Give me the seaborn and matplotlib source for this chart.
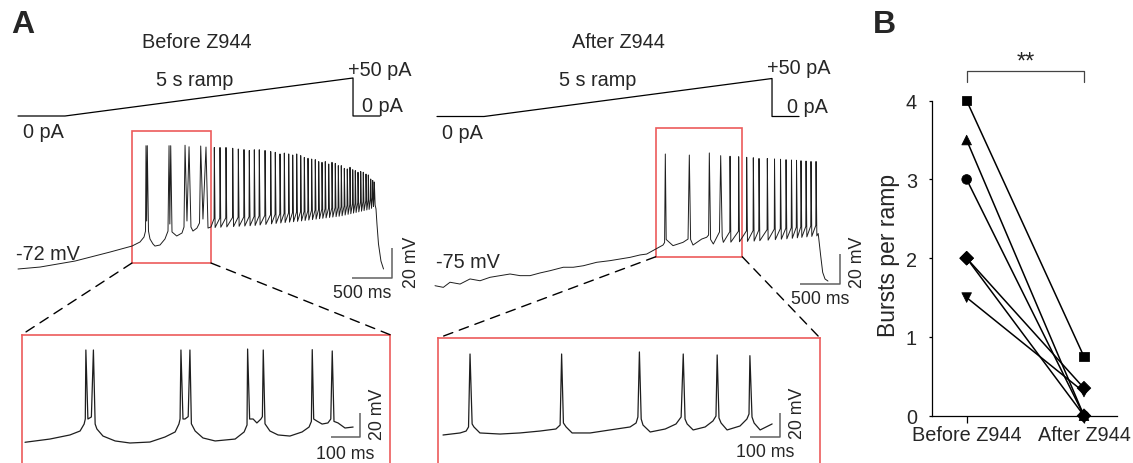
import numpy as np
import pandas as pd
import matplotlib
matplotlib.use("Agg")
import matplotlib.pyplot as plt
import seaborn as sns
from matplotlib.patches import Rectangle, ConnectionPatch

# ======================= DATA =======================
# ---- Panel B: bursts per ramp (paired) ----
subjects = ["S1", "S2", "S3", "S4", "S5", "S6"]
subject_markers = ["s", "^", "v", "D", "D", "o"]
bursts_before = [4.0, 3.5, 1.5, 2.0, 2.0, 3.0]
bursts_after = [0.75, 0.0, 0.30, 0.35, 0.0, 0.0]
conditions = ["Before Z944", "After Z944"]
b_yticks = [0, 1, 2, 3, 4]
signif_text = "**"

# ---- ramp command (ms, pA) ----
cmd_t = [-816, 0, 5000, 5000, 5469]
cmd_pA = [0, 0, 50, 0, 0]

# ---- Before Z944, full ramp trace (ms, mV) ----
pre_anchor_t = [0, 275, 712, 1150, 1425, 1525, 1575, 1594, 1608, 1631, 1650, 1687,
                1712, 1775, 1837, 1875, 1898, 1925, 1984, 2050, 2075, 2112, 2162,
                2187, 2237, 2269, 2312, 2375, 2412,
                4475, 4487, 4506, 4537, 4569]
pre_anchor_v = [-72, -70.7, -66.7, -60.7, -56.7, -54, -50.7, -46.7, -40, -46.7, -52, -55.3,
                -56.7, -56, -52, -46.7, -42, -47.3, -50, -48, -44, -40, -44,
                -46.7, -44.7, -41.3, -38.7, -44.7, -44,
                -32, -42, -55.3, -66.7, -72]
pre_burst_t = [1600, 1616, 1888, 1909, 2088, 2138, 2284, 2350]
pre_burst_v = [10.2, 10.2, 10.2, 10.2, 10.5, 9.5, 10.0, 9.3]
pre_single_t = [2454, 2525, 2600, 2684, 2754, 2825, 2891, 2954, 3016, 3088, 3159, 3216,
                3275, 3329, 3384, 3434, 3484, 3534, 3579, 3625, 3671, 3716, 3759, 3800,
                3841, 3884, 3925, 3966, 4004, 4041, 4079, 4116, 4150, 4184, 4216, 4250,
                4284, 4316, 4350, 4379, 4409, 4434, 4454]
pre_single_v = [9, 9, 9, 8.5, 8, 7.6, 7, 7.5, 7.5, 7, 6.3, 5.8,
                4.7, 5.3, 4.7, 4, 4.7, 3.6, 2.4, 1.8, 1.3, 0.9, -0.4, -0.9,
                -0.4, -2, -0.9, -1.6, -3.1, -3.1, -4.9, -5.3, -4.2, -5.8, -6.4, -7.5,
                -7, -7.5, -8.7, -9.3, -12, -13, -14]
pre_trough_t = [2400, 2950, 3525, 4025, 4400, 4460]
pre_trough_v = [-44.5, -43, -40, -36.7, -32, -29]

# ---- After Z944, full ramp trace (ms, mV) ----
post_anchor_t = [0, 104, 188, 313, 438, 563, 688, 813, 938, 1063, 1188, 1313, 1438,
                 1604, 1729, 1854, 2021, 2188, 2313, 2438, 2563, 2646, 2775, 2850,
                 2870, 2890, 2975, 3100, 3163, 3195, 3225, 3334, 3396, 3420, 3445,
                 3479, 3556, 3590, 3604,
                 4790, 4821, 4846, 4875, 4912]
post_anchor_v = [-74.8, -75.9, -72.5, -73.7, -70.3, -71.5, -69.2, -68.1, -67, -68.1, -68.1,
                 -66.3, -64.8, -62.5, -62.5, -61.5, -59.2, -58.1, -57, -55.9, -54.3,
                 -53.7, -49.9, -47.7, -46, -44, -48.1, -45.9, -43.7, -44, -47.7, -43.7,
                 -42.5, -41, -44, -47, -39, -42, -45.9,
                 -40, -54.8, -65.9, -70.3, -71.7]
post_burst_t = [2879, 3179, 3429, 3571]
post_burst_v = [13, 12.3, 13.7, 11.9]
post_single_t = [3688, 3796, 3896, 3979, 4050, 4154, 4244, 4319, 4388, 4456, 4519,
                 4575, 4638, 4700, 4763]
post_single_v = [11.5, 11.2, 10.8, 10.5, 10, 10, 9.7, 9.5, 9.2, 9, 8.8, 8.5, 8.3, 8, 8]
post_trough_t = [3600, 4000, 4400, 4780]
post_trough_v = [-46, -45, -43.5, -41.5]

# ---- Before Z944, expanded segment (ms, mV) ----
pre_zoom_anchor_t = [0, 86, 155, 190, 204, 208, 217, 229, 242, 248, 269, 311, 362, 431,
                     483, 518, 531, 535, 545, 552, 563, 574, 587, 614, 656, 725, 756,
                     766, 775, 787, 800, 814, 819, 828, 845, 873, 914, 956, 980, 988,
                     996, 1007, 1025, 1045, 1055, 1066, 1080, 1104, 1132]
pre_zoom_anchor_v = [-59.4, -56.7, -53.3, -50, -44.2, -40, -40, -38.3, -44.2, -48.3, -54.2,
                     -58.3, -60, -59.2, -55, -50.8, -44.2, -40, -40, -40, -38, -44, -50,
                     -55.8, -58.3, -56.7, -50.8, -45, -40, -40, -43.3, -40, -38, -44,
                     -50, -53.3, -54.2, -50.8, -46.7, -42, -40, -41.7, -44.2, -43.3,
                     -40, -42, -43.3, -47.5, -46.7]
pre_zoom_spike_t = [210, 236, 538, 569, 768, 822, 991, 1060]
pre_zoom_spike_v = [17.5, 17.5, 17.5, 17.5, 18.3, 17.5, 17.8, 16.7]

# ---- After Z944, expanded segment (ms, mV) ----
post_zoom_anchor_t = [0, 57, 77, 85, 97, 103, 123, 190, 256, 323, 376, 390, 401, 410, 430,
                      490, 556, 623, 643, 649, 660, 666, 690, 740, 776, 793, 806, 813,
                      833, 873, 899, 909, 919, 926, 946, 989, 1012, 1019, 1029, 1036,
                      1056, 1096]
post_zoom_anchor_v = [-60, -58.3, -56.7, -53.3, -50.8, -53.3, -58.3, -59.2, -58.3, -56.7,
                      -55, -51.7, -50, -53.3, -58.3, -58.3, -55.8, -53.3, -50, -45,
                      -46.7, -51.7, -57.5, -55, -50.8, -45, -46.7, -50.8, -55.8, -53.3,
                      -48.3, -44.2, -45.8, -50, -55.8, -52.5, -46.7, -42.5, -45, -50,
                      -55.8, -50.8]
post_zoom_spike_t = [90, 395, 654, 800, 913, 1022]
post_zoom_spike_v = [7.5, 7.5, 9.2, 7.5, 6.7, 6.1]

# ======================= STYLE =======================
sns.set_style("white")
plt.rcParams["font.family"] = ["Liberation Sans", "DejaVu Sans"]
RED = "#ec5b5b"
BAR = "#606060"
TRACE = "#1e1e1e"
W, H = 1133, 464
FS = 14.3
FS_SMALL = 12.8

fig = plt.figure(figsize=(W / 100, H / 100), dpi=100)


def ftext(x, y, s, **kw):
    fig.text(x / W, 1 - y / H, s, **kw)


def make_axes(box, x_ref, t_ref, ms_per_px, y_ref, v_ref, px_per_unit, off=True):
    x0, y0, x1, y1 = box
    ax = fig.add_axes([x0 / W, 1 - y1 / H, (x1 - x0) / W, (y1 - y0) / H])
    ax.set_xlim(t_ref + (x0 - x_ref) * ms_per_px, t_ref + (x1 - x_ref) * ms_per_px)
    ax.set_ylim(v_ref - (y1 - y_ref) / px_per_unit, v_ref + (y_ref - y0) / px_per_unit)
    ax.patch.set_alpha(0)
    if off:
        ax.set_axis_off()
    return ax


def assemble(anchor_t, anchor_v, spk_t, spk_v, single_t=(), single_v=(),
             base_t=(0,), base_v=(0,), depth=0.0):
    t = list(anchor_t) + list(spk_t)
    v = list(anchor_v) + list(spk_v)
    for ts, pk in zip(single_t, single_v):
        lvl = float(np.interp(ts, base_t, base_v))
        t += [ts - 3, ts, ts + 10]
        v += [lvl + depth, pk, lvl]
    order = np.argsort(t, kind="stable")
    return pd.DataFrame({"t": np.asarray(t, float)[order], "v": np.asarray(v, float)[order]})


def draw_trace(ax, df, lw=0.7):
    sns.lineplot(data=df, x="t", y="v", sort=False, estimator=None, color=TRACE,
                 lw=lw, ax=ax, legend=False)
    ax.set_xlabel("")
    ax.set_ylabel("")


def scalebar(ax, t_end, v_base, dt, dv):
    ax.plot([t_end - dt, t_end, t_end], [v_base, v_base, v_base + dv],
            color=BAR, lw=1.1, solid_capstyle="butt", clip_on=False)


def connect(ax_top, xy_top, ax_in, xy_axes):
    con = ConnectionPatch(xyA=xy_top, coordsA=ax_top.transData, xyB=xy_axes,
                          coordsB=ax_in.transAxes, color="k", lw=1.0,
                          linestyle=(0, (7, 5)))
    fig.add_artist(con)


cmd_df = pd.DataFrame({"t": cmd_t, "pA": cmd_pA})

# ======================= PANEL A: BEFORE =======================
ax_cmd1 = make_axes((10, 60, 420, 130), 65, 0, 17.36, 117, 0, 0.76)
sns.lineplot(data=cmd_df, x="t", y="pA", sort=False, estimator=None, color="k",
             lw=0.9, ax=ax_cmd1)
ax_tr1 = make_axes((10, 120, 425, 300), 18, 0, 12.5, 270, -72, 1.5)
draw_trace(ax_tr1, assemble(pre_anchor_t, pre_anchor_v, pre_burst_t, pre_burst_v,
                            pre_single_t, pre_single_v, pre_trough_t, pre_trough_v, 6.0))
box1 = (1425, -68, 2412 - 1425, 88)
ax_tr1.add_patch(Rectangle(box1[:2], box1[2], box1[3], fill=False, ec=RED, lw=1.2,
                           clip_on=False))
scalebar(ax_tr1, 4675, -78, 500, 20)

ax_in1 = make_axes((21.7, 335.7, 390, 490), 25, 0, 3.45, 444, -60, 1.2, off=False)
draw_trace(ax_in1, assemble(pre_zoom_anchor_t, pre_zoom_anchor_v,
                            pre_zoom_spike_t, pre_zoom_spike_v), lw=0.9)
scalebar(ax_in1, 1156, -55, 100, 20)

# ======================= PANEL A: AFTER =======================
ax_cmd2 = make_axes((430, 60, 840, 130), 484, 0, 17.36, 117.5, 0, 0.76)
sns.lineplot(data=cmd_df, x="t", y="pA", sort=False, estimator=None, color="k",
             lw=0.9, ax=ax_cmd2)
ax_tr2 = make_axes((430, 120, 870, 300), 435, 0, 12.5, 287, -75, 1.5)
draw_trace(ax_tr2, assemble(post_anchor_t, post_anchor_v, post_burst_t, post_burst_v,
                            post_single_t, post_single_v, post_trough_t, post_trough_v, 7.0))
box2 = (2759, -55.5, 3841 - 2759, 85.6)
ax_tr2.add_patch(Rectangle(box2[:2], box2[2], box2[3], fill=False, ec=RED, lw=1.2,
                           clip_on=False))
scalebar(ax_tr2, 5062, -73.7, 500, 20)

ax_in2 = make_axes((438.3, 339, 820, 490), 443, 0, 3.33, 436, -60, 1.2, off=False)
draw_trace(ax_in2, assemble(post_zoom_anchor_t, post_zoom_anchor_v,
                            post_zoom_spike_t, post_zoom_spike_v), lw=0.9)
scalebar(ax_in2, 1122, -61.7, 100, 20)

for ax in (ax_in1, ax_in2):
    ax.set_xticks([])
    ax.set_yticks([])
    for side, sp in ax.spines.items():
        sp.set_color(RED)
        sp.set_linewidth(1.2)
        sp.set_visible(side != "bottom")

# connectors
connect(ax_tr1, (box1[0], box1[1]), ax_in1, (0, 1))
connect(ax_tr1, (box1[0] + box1[2], box1[1]), ax_in1, (1, 1))
connect(ax_tr2, (box2[0], box2[1]), ax_in2, (0, 1))
connect(ax_tr2, (box2[0] + box2[2], box2[1]), ax_in2, (1, 1))

# texts panel A
ftext(23, 25, "A", fontsize=23, fontweight="bold", ha="center", va="center")
ftext(197, 42, "Before Z944", fontsize=FS, ha="center", va="center")
ftext(618, 42, "After Z944", fontsize=FS, ha="center", va="center")
for dx in (0, 403):
    ftext(195 + dx, 81, "5 s ramp", fontsize=FS, ha="center", va="center")
ftext(348, 71, "+50 pA", fontsize=FS, ha="left", va="center")
ftext(362, 107, "0 pA", fontsize=FS, ha="left", va="center")
ftext(23, 133, "0 pA", fontsize=FS, ha="left", va="center")
ftext(767, 69, "+50 pA", fontsize=FS, ha="left", va="center")
ftext(787, 108, "0 pA", fontsize=FS, ha="left", va="center")
ftext(442, 134, "0 pA", fontsize=FS, ha="left", va="center")
ftext(16, 255, "-72 mV", fontsize=FS, ha="left", va="center")
ftext(436, 263, "-75 mV", fontsize=FS, ha="left", va="center")
ftext(412, 262, "20 mV", fontsize=FS_SMALL, ha="center", va="center", rotation=90)
ftext(362, 294, "500 ms", fontsize=FS_SMALL, ha="center", va="center")
ftext(857, 262, "20 mV", fontsize=FS_SMALL, ha="center", va="center", rotation=90)
ftext(820, 300, "500 ms", fontsize=FS_SMALL, ha="center", va="center")
ftext(378, 414, "20 mV", fontsize=FS_SMALL, ha="center", va="center", rotation=90)
ftext(345, 455, "100 ms", fontsize=FS_SMALL, ha="center", va="center")
ftext(798, 413, "20 mV", fontsize=FS_SMALL, ha="center", va="center", rotation=90)
ftext(765, 453, "100 ms", fontsize=FS_SMALL, ha="center", va="center")

# ======================= PANEL B =======================
bx0, bx1, by_top, by_bot = 931.7, 1116.7, 93.8, 416.7
axB = fig.add_axes([bx0 / W, 1 - by_bot / H, (bx1 - bx0) / W, (by_bot - by_top) / H])
axB.patch.set_alpha(0)
dfB = pd.DataFrame({
    "subject": subjects * 2,
    "cond": [0] * len(subjects) + [1] * len(subjects),
    "bursts": bursts_before + bursts_after,
})
sns.lineplot(data=dfB, x="cond", y="bursts", units="subject", estimator=None,
             color="k", lw=1.1, ax=axB, legend=False, clip_on=False)
sns.scatterplot(data=dfB, x="cond", y="bursts", style="subject",
                markers=dict(zip(subjects, subject_markers)), color="k",
                edgecolor="k", s=48, ax=axB, legend=False, clip_on=False, zorder=3)
axB.set_xlim(-0.298, 1.279)
axB.set_ylim(0, 4.1)
axB.set_xticks([0, 1])
axB.set_xticklabels(conditions, fontsize=FS)
axB.set_yticks(b_yticks)
axB.set_yticklabels([str(v) for v in b_yticks], fontsize=FS)
axB.set_xlabel("")
axB.set_ylabel("Bursts per ramp", fontsize=16.5)
axB.yaxis.set_label_coords(-0.17, 0.5)
for side in ("top", "right"):
    axB.spines[side].set_visible(False)
for side in ("left", "bottom"):
    axB.spines[side].set_color("k")
    axB.spines[side].set_linewidth(0.9)
axB.spines["left"].set_bounds(0, 4)
axB.tick_params(axis="y", direction="out", length=2.5, width=0.9, pad=8, color="k",
                left=True)
axB.tick_params(axis="x", direction="out", length=4.8, width=0.9, pad=2, color="k",
                bottom=True)
# significance bracket
axB.plot([0, 0, 1, 1], [4.233, 4.373, 4.373, 4.233], color="#444444", lw=0.9,
         clip_on=False)
axB.text(0.5, 4.50, signif_text, ha="center", va="center", fontsize=17)
ftext(884, 25, "B", fontsize=23, fontweight="bold", ha="center", va="center")

fig.savefig("out.png", dpi=100)
